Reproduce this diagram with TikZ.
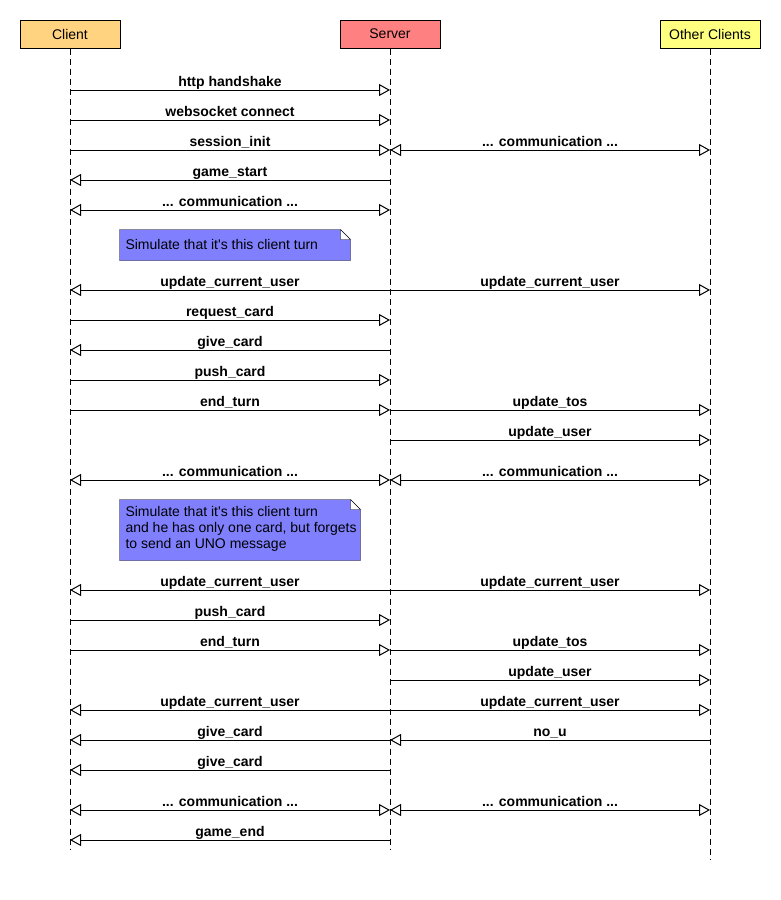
\documentclass[tikz,border=0pt]{standalone}
\usepackage{fontspec}
\setmainfont{Liberation Sans}
\usetikzlibrary{arrows.meta,backgrounds}

\definecolor{client fill}{HTML}{FFD37F}
\definecolor{server fill}{HTML}{FF8080}
\definecolor{others fill}{HTML}{FFFF80}
\definecolor{note fill}{HTML}{8080FF}

\tikzset{
  actor/.style={
    draw,
    minimum width=100pt,
    minimum height=28pt,
    inner sep=0pt,
    font=\fontsize{14}{16}\selectfont,
  },
  lifeline/.style={
    dash pattern=on 6pt off 4pt,
  },
  msg/.style={
    -{Triangle[open, length=11pt, width=12pt]},
  },
  both msg/.style={
    {Triangle[open, length=11pt, width=12pt]}-{Triangle[open, length=11pt, width=12pt]},
  },
  msg label/.style={
    above=3pt,
    inner sep=0pt,
    text depth=0pt,
    font=\bfseries\fontsize{14}{16}\selectfont,
  },
  note/.style={
    inner sep=0pt,
  },
  note text/.style={
    anchor=west,
    inner sep=0pt,
    align=left,
    font=\fontsize{14}{16}\selectfont,
  },
  fold/.style={
    draw,
    fill=note fill,
  },
}

\begin{document}
\begin{tikzpicture}[x=1pt, y=-1pt, line width=1pt]

  \useasboundingbox (0,0) rectangle (780,900);

  \coordinate (bottom) at (0,850);
  \coordinate (last) at (0,860);

  \node[actor, fill=client fill] (client) at (70,34) {Client};
  \node[actor, fill=server fill] (server) at (390,34) {Server};
  \node[actor, fill=others fill] (others) at (710,34) {Other Clients};

  % lifelines
  \begin{scope}[on background layer]
    \draw[lifeline] (client) -- (client |- bottom);
    \draw[lifeline] (server) -- (server |- bottom);
    \draw[lifeline] (others) -- (others |- last);
  \end{scope}

  % notes
  \node[note, minimum width=230pt, minimum height=30pt] (turn) at (235,245) {};
  \node[note text] (turn text) at (125,244)
    {Simulate that it\textquotesingle s this client turn};
  \node[note, minimum width=240pt, minimum height=60pt] (uno) at (240,530) {};
  \node[note text] (uno text) at (125,529)
    {Simulate that it\textquotesingle s this client turn\\
     and he has only one card, but forgets\\
     to send an UNO message};

  \begin{scope}[on background layer]
    \foreach \n in {turn,uno}
      \draw[fold] (\n.north west) -- ([xshift=-10pt]\n.north east)
        -- ([yshift=-10pt]\n.north east) -- (\n.south east)
        -- (\n.south west) -- cycle
        ([xshift=-10pt]\n.north east) |- ([yshift=-10pt]\n.north east);
  \end{scope}

  % messages
  \foreach \y/\a/\b/\txt in {
    90/client/server/http handshake,
    120/client/server/websocket connect,
    150/client/server/session\_init,
    180/server/client/game\_start,
    290/server/client/update\_current\_user,
    290/server/others/update\_current\_user,
    320/client/server/request\_card,
    350/server/client/give\_card,
    380/client/server/push\_card,
    410/client/server/end\_turn,
    410/server/others/update\_tos,
    440/server/others/update\_user,
    590/server/client/update\_current\_user,
    590/server/others/update\_current\_user,
    620/client/server/push\_card,
    650/client/server/end\_turn,
    650/server/others/update\_tos,
    680/server/others/update\_user,
    710/server/client/update\_current\_user,
    710/server/others/update\_current\_user,
    740/server/client/give\_card,
    740/others/server/no\_u,
    770/server/client/give\_card,
    840/server/client/game\_end%
  }
    \draw[msg] (\a |- 0,\y) -- node[msg label] {\txt} (\b |- 0,\y);

  \foreach \y/\a/\b in {150/server/others, 210/client/server,
      480/client/server, 480/server/others,
      810/client/server, 810/server/others}
    \draw[both msg] (\a |- 0,\y) -- node[msg label] {... communication ...} (\b |- 0,\y);

\end{tikzpicture}
\end{document}
